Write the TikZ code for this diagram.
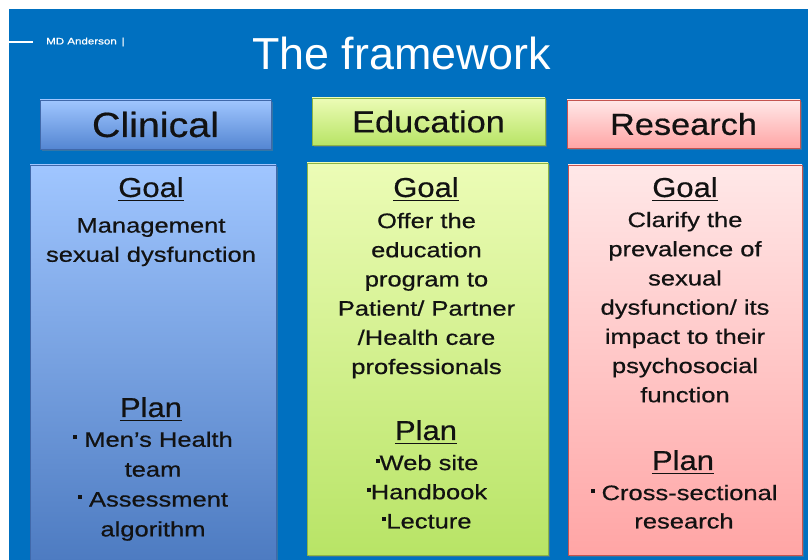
\documentclass[tikz,border=0pt]{standalone}
\usepackage{fontspec}
\setmainfont{Liberation Sans}
\newfontfamily\bodyfont[FakeStretch=1.22,FakeBold=0.6]{Liberation Sans}
\newfontfamily\headfont[FakeStretch=1.13,FakeBold=0.5]{Liberation Sans}
\usetikzlibrary{shadows}
\definecolor{slideblue}{RGB}{0,112,192}
\definecolor{clinTop}{RGB}{160,198,255}
\definecolor{clinBot}{RGB}{84,134,210}
\definecolor{clinLine}{RGB}{64,104,170}
\definecolor{eduTop}{RGB}{236,252,182}
\definecolor{eduBot}{RGB}{184,228,102}
\definecolor{eduLine}{RGB}{140,180,70}
\definecolor{resTop}{RGB}{255,232,232}
\definecolor{resBot}{RGB}{255,165,165}
\definecolor{resLine}{RGB}{196,84,80}
\definecolor{ink}{RGB}{18,18,18}
\newcommand\sqbullet{\raisebox{0.36em}{\rule{0.19em}{0.19em}}}
\begin{document}
\begin{tikzpicture}[line join=bevel,
  hdr/.style={draw,line width=0.8bp,inner sep=0pt,font=\headfont,text=ink,
    drop shadow={shadow xshift=1.5bp,shadow yshift=-2bp,opacity=0.4}},
  panel/.style={draw,line width=0.8bp,inner sep=0pt,
    drop shadow={shadow xshift=1.5bp,shadow yshift=-2bp,opacity=0.4}},
  caption/.style={inner sep=0pt,anchor=base,text=ink,font=\headfont\fontsize{27.5}{30}\selectfont},
  body/.style={inner sep=0pt,anchor=north,align=center,text=ink,font=\bodyfont\fontsize{21}{29.3}\selectfont},
]
\useasboundingbox (0bp,0bp) rectangle (808bp,560bp);
\fill [slideblue] (9bp,0bp) rectangle (808bp,551bp);
%%
\coordinate (tickL) at (9bp,518bp);
  \coordinate (tickR) at (33bp,518bp);
  \draw [white,line width=1.5bp] (tickL) -- (tickR);
  \node (brand) at (46bp,518bp) [anchor=west,inner sep=0pt,text=white,font=\bodyfont\fontsize{9.5}{11}\selectfont] {MD Anderson \,|};
  \node (title) at (401.5bp,490bp) [anchor=base,inner sep=0pt,text=white,font=\fontsize{45}{50}\selectfont] {The framework};
%%
\node (clinical) at (155.5bp,435.5bp) [hdr,draw=clinLine,top color=clinTop,bottom color=clinBot,minimum width=231bp,minimum height=49bp] {\fontsize{35}{38}\selectfont Clinical};
  \node (education) at (428.5bp,438.5bp) [hdr,draw=eduLine,top color=eduTop,bottom color=eduBot,minimum width=233bp,minimum height=47bp] {\fontsize{30.5}{34}\selectfont Education};
  \node (research) at (683.5bp,436bp) [hdr,draw=resLine,top color=resTop,bottom color=resBot,minimum width=233bp,minimum height=48bp] {\fontsize{30.5}{34}\selectfont Research};
%%
\node (clinPanel) at (153bp,197.5bp) [panel,draw=clinLine,top color=clinTop,bottom color=clinBot!92!black,minimum width=246bp,minimum height=395bp] {};
  \node (eduPanel) at (427.5bp,201bp) [panel,draw=eduLine,top color=eduTop,bottom color=eduBot,minimum width=241bp,minimum height=392bp] {};
  \node (resPanel) at (685bp,200bp) [panel,draw=resLine,top color=resTop,bottom color=resBot,minimum width=234bp,minimum height=390bp] {};
%%
\node (clinGoal) at (151bp,363bp) [caption] {Goal};
  \node (eduGoal) at (426bp,363bp) [caption] {Goal};
  \node (resGoal) at (685bp,363bp) [caption] {Goal};
  \node (clinPlan) at (151bp,143bp) [caption] {Plan};
  \node (eduPlan) at (426bp,120bp) [caption] {Plan};
  \node (resPlan) at (683bp,90bp) [caption] {Plan};
  \foreach \h in {clinGoal,eduGoal,resGoal,clinPlan,eduPlan,resPlan}
    \draw [ink,line width=1.5bp] ([yshift=-3.5bp]\h.base west) -- ([yshift=-3.5bp]\h.base east);
%%
\node (clinAim) at (151bp,342bp) [body] {Management\\sexual dysfunction};
  \node (eduAim) at (426.5bp,347.3bp) [body] {Offer the\\education\\program to\\Patient/ Partner\\/Health care\\professionals};
  \node (resAim) at (685bp,348.3bp) [body] {Clarify the\\prevalence of\\sexual\\dysfunction/ its\\impact to their\\psychosocial\\function};
  \node (clinSteps) at (153bp,128.6bp) [body,font=\bodyfont\fontsize{21}{30}\selectfont] {\sqbullet{} Men’s Health\\team\\\sqbullet{} Assessment\\algorithm};
  \node (eduSteps) at (427bp,105.3bp) [body] {\sqbullet{}Web site\\\sqbullet{}Handbook\\\sqbullet{}Lecture};
  \node (resSteps) at (684bp,75.3bp) [body,font=\bodyfont\fontsize{21}{28.5}\selectfont] {\sqbullet{} Cross-sectional\\research};
%
\end{tikzpicture}
\end{document}
